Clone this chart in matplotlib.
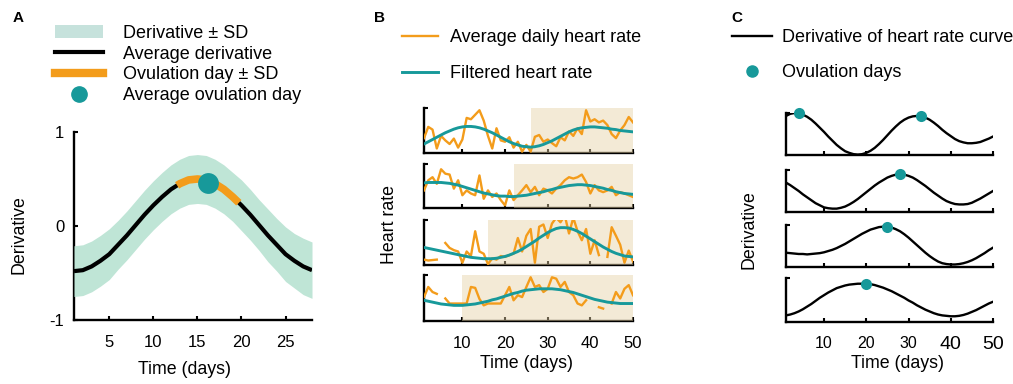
import numpy as np
import matplotlib
matplotlib.use('Agg')
import matplotlib.pyplot as plt
from matplotlib.patches import Patch
from matplotlib.lines import Line2D

plt.rcParams['font.family'] = ['Liberation Sans', 'DejaVu Sans']

teal = '#17999a'
orange = '#f39c1b'
band = '#bfe5d6'
shade = '#e6d2a5'
nan = np.nan

# ---- panel A: average derivative over one cycle
days_a = np.arange(1, 29)
mean_deriv = [-0.48, -0.47, -0.43, -0.37, -0.30, -0.20, -0.10, 0.01, 0.12, 0.22,
              0.31, 0.39, 0.45, 0.49, 0.50, 0.49, 0.45, 0.39, 0.31, 0.22,
              0.12, 0.01, -0.10, -0.20, -0.30, -0.37, -0.43, -0.47]
sd_deriv = [0.27, 0.27, 0.27, 0.27, 0.27, 0.26, 0.26, 0.26, 0.26, 0.26,
            0.26, 0.26, 0.26, 0.26, 0.26, 0.26, 0.26, 0.26, 0.26, 0.27,
            0.27, 0.27, 0.28, 0.28, 0.29, 0.29, 0.30, 0.30]
ovulation_mean = 16.2
ovulation_sd = 3.5

# ---- panel B: heart rate of four example users (normalised)
days_b = np.arange(1, 51)
hr_raw = [
    [0.33, 0.58, 0.52, 0.10, 0.38, 0.28, 0.20, 0.32, 0.12, 0.30,
     0.78, 0.75, 0.85, 0.95, 0.72, 0.38, 0.10, 0.55, 0.28, 0.25,
     0.35, 0.12, 0.25, 0.03, 0.18, 0.03, 0.36, 0.40, 0.25, 0.30,
     0.22, 0.15, 0.35, 0.28, 0.48, 0.38, 0.55, 0.42, 0.95, 0.70,
     0.75, 0.68, 0.72, 0.62, 0.42, 0.33, 0.50, 0.62, 0.80, 0.68],
    [0.40, 0.63, 0.70, 0.55, 0.88, 0.78, 0.76, 0.44, 0.63, 0.29,
     0.40, 0.33, 0.29, 0.74, 0.21, 0.40, 0.25, 0.33, 0.18, 0.06,
     0.40, 0.18, 0.29, 0.40, 0.52, 0.36, 0.48, 0.29, 0.44, 0.40,
     0.33, 0.44, 0.52, 0.63, 0.70, 0.67, 0.70, 0.76, 0.59, 0.33,
     0.52, 0.40, 0.36, 0.40, 0.48, 0.29, 0.36, 0.33, 0.29, 0.25],
    [0.12, 0.10, 0.11, 0.12, nan, 0.49, 0.38, 0.33, 0.30, 0.05,
     0.30, 0.20, 0.75, 0.30, 0.25, 0.02, 0.15, 0.12, 0.20, 0.18,
     0.22, 0.25, 0.60, 0.30, 0.65, 0.80, 0.05, 0.85, 0.90, 0.60,
     0.92, 1.05, 0.95, 1.10, 0.70, 1.05, 0.75, 0.55, 0.80, 0.25,
     0.55, 0.22, nan, 0.18, 0.84, 0.65, 0.45, 0.05, 0.32, 0.08],
    [0.52, 0.74, 0.63, 0.59, nan, 0.49, 0.38, 0.38, 0.38, 0.38,
     0.38, 0.74, 0.72, 0.48, 0.34, 0.38, 0.38, 0.38, 0.38, 0.56,
     0.74, 0.45, 0.56, 0.52, 0.74, 0.95, 0.74, 0.78, 0.63, 0.70,
     0.95, 0.92, 0.74, 0.85, 0.63, 0.56, 0.38, 0.34, 0.45, nan,
     nan, 0.30, 0.27, nan, 0.38, 0.63, 0.49, 0.70, 0.78, 0.56],
]
hr_filtered = [
    [0.20, 0.25, 0.30, 0.35, 0.40, 0.45, 0.49, 0.53, 0.56, 0.58,
     0.59, 0.59, 0.58, 0.56, 0.53, 0.49, 0.45, 0.40, 0.35, 0.30,
     0.25, 0.21, 0.18, 0.15, 0.14, 0.13, 0.14, 0.16, 0.19, 0.23,
     0.27, 0.32, 0.37, 0.42, 0.47, 0.51, 0.54, 0.56, 0.57, 0.58,
     0.58, 0.57, 0.56, 0.55, 0.53, 0.52, 0.50, 0.49, 0.48, 0.47],
    [0.57, 0.58, 0.58, 0.58, 0.58, 0.57, 0.56, 0.54, 0.52, 0.49,
     0.46, 0.43, 0.40, 0.37, 0.34, 0.32, 0.30, 0.28, 0.27, 0.27,
     0.26, 0.26, 0.27, 0.28, 0.29, 0.31, 0.33, 0.35, 0.37, 0.40,
     0.42, 0.45, 0.47, 0.49, 0.51, 0.52, 0.53, 0.53, 0.52, 0.51,
     0.49, 0.47, 0.45, 0.42, 0.40, 0.37, 0.35, 0.33, 0.32, 0.31],
    [0.39, 0.37, 0.35, 0.33, 0.31, 0.29, 0.27, 0.25, 0.23, 0.21,
     0.19, 0.17, 0.16, 0.15, 0.14, 0.14, 0.14, 0.15, 0.17, 0.19,
     0.22, 0.26, 0.30, 0.35, 0.41, 0.47, 0.53, 0.60, 0.66, 0.72,
     0.77, 0.81, 0.83, 0.83, 0.82, 0.79, 0.75, 0.70, 0.64, 0.58,
     0.52, 0.46, 0.40, 0.35, 0.30, 0.26, 0.23, 0.20, 0.19, 0.18],
    [0.45, 0.43, 0.41, 0.39, 0.37, 0.36, 0.35, 0.34, 0.34, 0.34,
     0.35, 0.36, 0.37, 0.39, 0.41, 0.43, 0.46, 0.48, 0.51, 0.54,
     0.57, 0.60, 0.62, 0.65, 0.67, 0.68, 0.69, 0.70, 0.70, 0.70,
     0.70, 0.69, 0.68, 0.66, 0.64, 0.62, 0.59, 0.56, 0.53, 0.50,
     0.47, 0.45, 0.43, 0.41, 0.40, 0.39, 0.38, 0.38, 0.38, 0.38],
]
luteal_start = [26.2, 22.0, 16.1, 10.0]

# ---- panel C: derivative of filtered heart rate (normalised)
days_c = np.arange(1, 51)
hr_deriv = [
    [0.93, 0.98, 1.00, 0.99, 0.96, 0.91, 0.84, 0.75, 0.65, 0.55,
     0.44, 0.34, 0.24, 0.16, 0.09, 0.05, 0.02, 0.01, 0.02, 0.05,
     0.10, 0.17, 0.26, 0.36, 0.47, 0.58, 0.68, 0.77, 0.84, 0.89,
     0.92, 0.93, 0.92, 0.89, 0.84, 0.77, 0.69, 0.60, 0.52, 0.45,
     0.38, 0.33, 0.30, 0.28, 0.28, 0.29, 0.31, 0.35, 0.39, 0.44],
    [0.70, 0.64, 0.57, 0.50, 0.42, 0.35, 0.28, 0.21, 0.16, 0.11,
     0.09, 0.08, 0.08, 0.10, 0.13, 0.18, 0.24, 0.31, 0.39, 0.47,
     0.55, 0.63, 0.70, 0.76, 0.82, 0.86, 0.89, 0.90, 0.89, 0.86,
     0.82, 0.76, 0.69, 0.62, 0.54, 0.46, 0.39, 0.32, 0.26, 0.22,
     0.19, 0.18, 0.18, 0.19, 0.22, 0.27, 0.32, 0.38, 0.44, 0.50],
    [0.34, 0.33, 0.32, 0.31, 0.31, 0.30, 0.31, 0.32, 0.33, 0.35,
     0.38, 0.41, 0.45, 0.50, 0.55, 0.61, 0.67, 0.73, 0.79, 0.84,
     0.89, 0.92, 0.95, 0.96, 0.96, 0.94, 0.90, 0.85, 0.78, 0.70,
     0.61, 0.52, 0.43, 0.34, 0.26, 0.19, 0.13, 0.09, 0.07, 0.06,
     0.06, 0.07, 0.09, 0.12, 0.16, 0.21, 0.27, 0.33, 0.40, 0.46],
    [0.15, 0.17, 0.20, 0.24, 0.29, 0.35, 0.41, 0.48, 0.55, 0.61,
     0.67, 0.72, 0.77, 0.80, 0.83, 0.85, 0.86, 0.87, 0.87, 0.87,
     0.86, 0.84, 0.81, 0.78, 0.74, 0.70, 0.65, 0.60, 0.55, 0.49,
     0.44, 0.38, 0.33, 0.28, 0.24, 0.20, 0.17, 0.15, 0.14, 0.13,
     0.13, 0.14, 0.16, 0.19, 0.23, 0.27, 0.32, 0.37, 0.42, 0.46],
]
ovulation_days = [[4, 33], [28], [25], [20]]

W, H = 1013, 384
fig = plt.figure(figsize=(W / 100, H / 100), dpi=100)


def box(l, t, r, b):
    # pixel box -> figure fraction
    return [l / W, 1 - b / H, (r - l) / W, (b - t) / H]


def style(ax, lw=1.7):
    for s in ['top', 'right']:
        ax.spines[s].set_visible(False)
    for s in ['left', 'bottom']:
        ax.spines[s].set_linewidth(lw)
        ax.spines[s].set_zorder(0.5)
    ax.set_axisbelow(True)


# ---------- A
axA = fig.add_axes(box(74, 132, 312, 320))
style(axA)
mean_deriv = np.array(mean_deriv)
sd_deriv = np.array(sd_deriv)
axA.fill_between(days_a, mean_deriv - sd_deriv, mean_deriv + sd_deriv,
                 color=band, lw=0)
axA.plot(days_a, mean_deriv, color='black', lw=3, solid_capstyle='butt')
lo, hi = ovulation_mean - ovulation_sd, ovulation_mean + ovulation_sd
inside = (days_a > lo) & (days_a < hi)
seg_x = np.concatenate([[lo], days_a[inside], [hi]])
seg_y = np.interp(seg_x, days_a, mean_deriv)
axA.plot(seg_x, seg_y, color=orange, lw=5.5, solid_capstyle='butt')
axA.plot([ovulation_mean], [np.interp(ovulation_mean, days_a, mean_deriv) - 0.02],
         'o', color=teal, ms=15, mec='none')
axA.set_xlim(1, 28)
axA.set_ylim(-1, 1)
axA.set_xticks([5, 10, 15, 20, 25])
axA.set_yticks([-1, 0, 1])
axA.set_yticklabels(['-1', '0', '1'])
axA.tick_params(direction='in', length=3, width=1.5, labelsize=12, pad=11)
axA.tick_params(axis='y', pad=7)

handlesA = [Patch(color='#c6e2dc', lw=0),
            Line2D([], [], color='black', lw=3),
            Line2D([], [], color=orange, lw=6),
            Line2D([], [], ls='none', marker='o', color=teal, ms=11)]
labelsA = ['Derivative \u00b1 SD', 'Average derivative',
           'Ovulation day \u00b1 SD', 'Average ovulation day']
fig.legend(handlesA, labelsA, loc='upper left', bbox_to_anchor=(55 / W, 1 - 25 / H),
           frameon=False, fontsize=13, handlelength=2.65, handleheight=0.7,
           handletextpad=1.1, labelspacing=0.2, borderpad=0, borderaxespad=0)

# ---------- B
b_boxes = [(424, 108, 633, 153), (424, 164, 633, 208),
           (424, 220, 633, 265), (424, 275, 633, 321)]
for i, bb in enumerate(b_boxes):
    ax = fig.add_axes(box(*bb))
    style(ax)
    ax.axvspan(luteal_start[i], 50, color=shade, alpha=0.45, lw=0, zorder=1)
    ax.plot(days_b, hr_raw[i], color=orange, lw=1.7, zorder=2)
    ax.plot(days_b, hr_filtered[i], color=teal, lw=2.1, zorder=3)
    ax.set_xlim(1, 50)
    ax.set_ylim(0, 1)
    ax.set_xticks([10, 20, 30, 40, 50])
    ax.set_yticks([1])
    ax.tick_params(direction='in', length=3, width=1.5, labelleft=False, pad=11,
                   labelsize=12)
    if i < 3:
        ax.tick_params(labelbottom=False)

fig.legend([Line2D([], [], color=orange, lw=1.7), Line2D([], [], color=teal, lw=2.1)],
           ['Average daily heart rate', 'Filtered heart rate'],
           loc='upper left', bbox_to_anchor=(402 / W, 1 - 29 / H), frameon=False,
           fontsize=13, handlelength=2.0, handletextpad=0.67, labelspacing=1.05,
           borderpad=0, borderaxespad=0)

# ---------- C
c_boxes = [(786, 113, 993, 155), (786, 170, 993, 212),
           (786, 225, 993, 267), (786, 278, 993, 322)]
for i, bb in enumerate(c_boxes):
    ax = fig.add_axes(box(*bb))
    style(ax)
    ax.plot(days_c, hr_deriv[i], color='black', lw=1.7)
    for d in ovulation_days[i]:
        ax.plot([d], [hr_deriv[i][d - 1]], 'o', color=teal, ms=8, mec='none',
                clip_on=False, zorder=4)
    ax.set_xlim(1, 50)
    ax.set_ylim(0, 1)
    ax.set_xticks([10, 20, 30, 40, 50])
    ax.set_yticks([1])
    ax.tick_params(direction='in', length=3, width=1.5, labelleft=False, pad=10,
                   labelsize=11.5)
    if i < 3:
        ax.tick_params(labelbottom=False)
    else:
        for lab in ax.get_xticklabels()[3:]:
            lab.set_fontsize(14)

fig.legend([Line2D([], [], color='black', lw=1.7),
            Line2D([], [], ls='none', marker='o', color=teal, ms=8)],
           ['Derivative of heart rate curve', 'Ovulation days'],
           loc='upper left', bbox_to_anchor=(732 / W, 1 - 29 / H), frameon=False,
           fontsize=13, handlelength=2.2, handletextpad=0.55, labelspacing=1.0,
           borderpad=0, borderaxespad=0)

# ---------- labels
fig.text(18 / W, 1 - 18 / H, 'A', fontsize=11, fontweight='bold', ha='center', va='center')
fig.text(379 / W, 1 - 18 / H, 'B', fontsize=11, fontweight='bold', ha='center', va='center')
fig.text(737 / W, 1 - 18 / H, 'C', fontsize=11, fontweight='bold', ha='center', va='center')

fig.text(19 / W, 1 - 235 / H, 'Derivative', fontsize=12.8, rotation=90, ha='center', va='center')
fig.text(389 / W, 1 - 225 / H, 'Heart rate', fontsize=12.8, rotation=90, ha='center', va='center')
fig.text(749 / W, 1 - 230 / H, 'Derivative', fontsize=12.8, rotation=90, ha='center', va='center')

fig.text(185 / W, 1 - 369 / H, 'Time (days)', fontsize=12.8, ha='center', va='center')
fig.text(526 / W, 1 - 364 / H, 'Time (days)', fontsize=12.8, ha='center', va='center')
fig.text(897 / W, 1 - 364 / H, 'Time (days)', fontsize=12.8, ha='center', va='center')

fig.savefig('out.png', dpi=100)
